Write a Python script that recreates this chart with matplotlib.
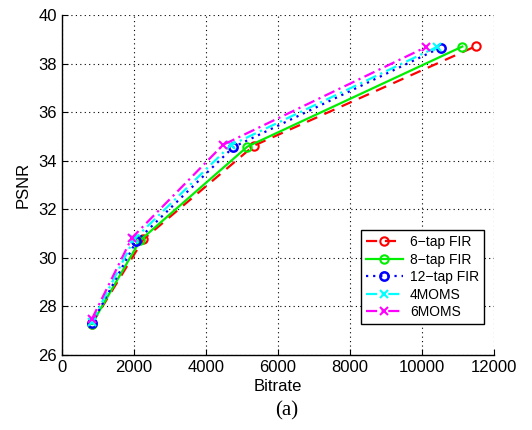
import matplotlib
matplotlib.use("Agg")
import matplotlib.pyplot as plt

# Rate-distortion curves for the different interpolation filters
fir6_rate = [830, 2260, 5330, 11500]
fir6_psnr = [27.28, 30.76, 34.62, 38.72]

fir8_rate = [830, 2170, 5150, 11120]
fir8_psnr = [27.28, 30.72, 34.58, 38.70]

fir12_rate = [830, 2060, 4760, 10520]
fir12_psnr = [27.30, 30.68, 34.56, 38.66]

moms4_rate = [830, 2000, 4690, 10410]
moms4_psnr = [27.36, 30.76, 34.64, 38.68]

moms6_rate = [830, 1940, 4480, 10110]
moms6_psnr = [27.48, 30.82, 34.66, 38.68]

x_ticks = [0, 2000, 4000, 6000, 8000, 10000, 12000]
y_ticks = [26, 28, 30, 32, 34, 36, 38, 40]

plt.rcParams['font.family'] = ['Liberation Sans', 'DejaVu Sans']
plt.rcParams['font.size'] = 12

fig = plt.figure(figsize=(5.32, 4.30), dpi=100)
ax = fig.add_axes([0.1165, 0.1744, 0.812, 0.7907])

lw = 1.6
ms = 6
ax.plot(fir6_rate, fir6_psnr, color='red', linestyle=(0, (5, 3.5)), marker='o',
        markerfacecolor='none', markersize=ms, lw=lw, mew=1.5, label='6\u2212tap FIR')
ax.plot(fir8_rate, fir8_psnr, color='#00ee00', linestyle='-', marker='o',
        markerfacecolor='none', markersize=ms, lw=lw, mew=1.5, label='8\u2212tap FIR')
ax.plot(fir12_rate, fir12_psnr, color='blue', linestyle=(0, (1, 2.2)), marker='o',
        markerfacecolor='none', markersize=ms, lw=lw, mew=1.8, label='12\u2212tap FIR')
ax.plot(moms4_rate, moms4_psnr, color='cyan', linestyle=(0, (5, 2, 1, 2)), marker='x',
        markersize=ms, lw=lw, mew=1.5, label='4MOMS')
ax.plot(moms6_rate, moms6_psnr, color='magenta', linestyle=(0, (5, 2, 1, 2)), marker='x',
        markersize=ms, lw=lw, mew=1.5, label='6MOMS')

ax.set_xlim(0, 12000)
ax.set_ylim(26, 40)
ax.set_xticks(x_ticks)
ax.set_yticks(y_ticks)
ax.tick_params(direction='in', length=4, width=0.8)
ax.grid(True, color='black', linestyle=(0, (1, 3)), linewidth=0.8)
ax.spines['top'].set_visible(False)
ax.spines['right'].set_visible(False)
ax.spines['left'].set_linewidth(1.0)
ax.spines['bottom'].set_linewidth(1.0)

ax.set_xlabel('Bitrate', labelpad=3)
ax.set_ylabel('PSNR', labelpad=6)

leg = ax.legend(loc='lower right', bbox_to_anchor=(0.977, 0.091), borderaxespad=0,
                fontsize=10, fancybox=False, framealpha=1, edgecolor='black',
                handlelength=2.7, labelspacing=0.25, borderpad=0.35, handletextpad=0.5)
leg.get_frame().set_linewidth(1.0)

fig.text(0.5385, 0.045, '(a)', ha='center', va='center', fontsize=15,
         family=['Liberation Serif', 'DejaVu Serif'])

fig.savefig('out.png', dpi=100)
